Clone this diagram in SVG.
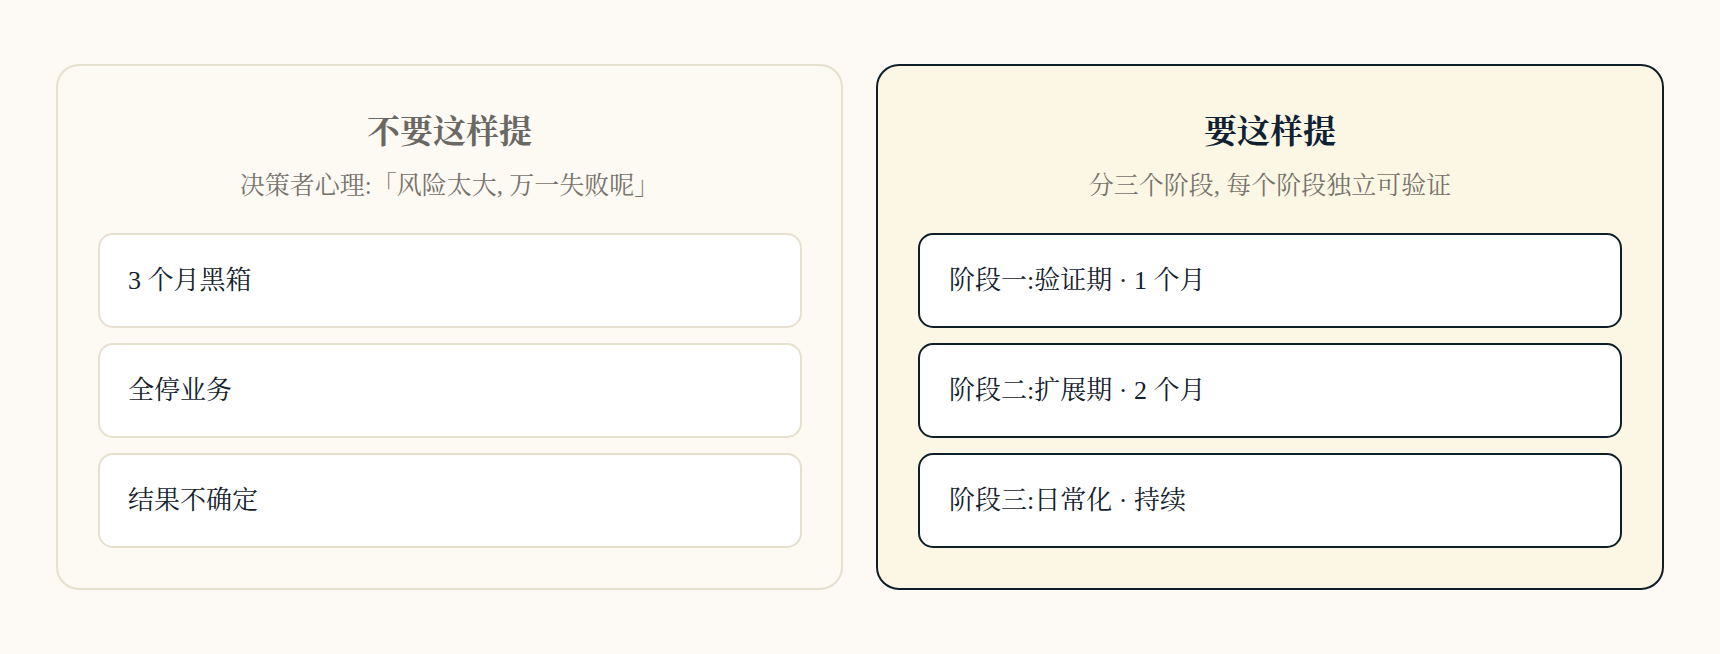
<svg xmlns="http://www.w3.org/2000/svg" width="1720" height="654" viewBox="0 0 1720 654">
<style>
text{font-family:"Liberation Serif","Noto Serif CJK SC","Noto Sans CJK SC",serif}
.title{font-size:33px;font-weight:bold;text-anchor:middle}
.sub{font-size:25px;fill:#77736c;text-anchor:middle}
.item{font-size:26px;fill:#13222e}
.pl{fill:#fdf9f3;stroke:#e6e0cf;stroke-width:2}
.pr{fill:#fcf7e5;stroke:#0f1f2a;stroke-width:2}
.cl{fill:#ffffff;stroke:#e6e0cf;stroke-width:2}
.cr{fill:#ffffff;stroke:#0f1f2a;stroke-width:2}
</style>
<rect width="1720" height="654" fill="#fdf9f4"/>
<g id="panel-dont">
<rect class="pl" x="57" y="65" width="785" height="524" rx="22"/>
<text class="title" x="449.5" y="143" fill="#6a6863">不要这样提</text>
<text class="sub" x="449.5" y="194">决策者心理:「风险太大, 万一失败呢」</text>
</g>
<g id="item-l1"><rect class="cl" x="99" y="234" width="702" height="93" rx="14"/><text class="item" x="128" y="289">3 个月黑箱</text></g>
<g id="item-l2"><rect class="cl" x="99" y="344" width="702" height="93" rx="14"/><text class="item" x="128" y="399">全停业务</text></g>
<g id="item-l3"><rect class="cl" x="99" y="454" width="702" height="93" rx="14"/><text class="item" x="128" y="509">结果不确定</text></g>
<g id="panel-do">
<rect class="pr" x="877" y="65" width="786" height="524" rx="22"/>
<text class="title" x="1270" y="143" fill="#0f2233">要这样提</text>
<text class="sub" x="1270" y="194">分三个阶段, 每个阶段独立可验证</text>
</g>
<g id="item-r1"><rect class="cr" x="919" y="234" width="702" height="93" rx="14"/><text class="item" x="949" y="289">阶段一:验证期 · 1 个月</text></g>
<g id="item-r2"><rect class="cr" x="919" y="344" width="702" height="93" rx="14"/><text class="item" x="949" y="399">阶段二:扩展期 · 2 个月</text></g>
<g id="item-r3"><rect class="cr" x="919" y="454" width="702" height="93" rx="14"/><text class="item" x="949" y="509">阶段三:日常化 · 持续</text></g>
<g id="connectors"/>
</svg>
